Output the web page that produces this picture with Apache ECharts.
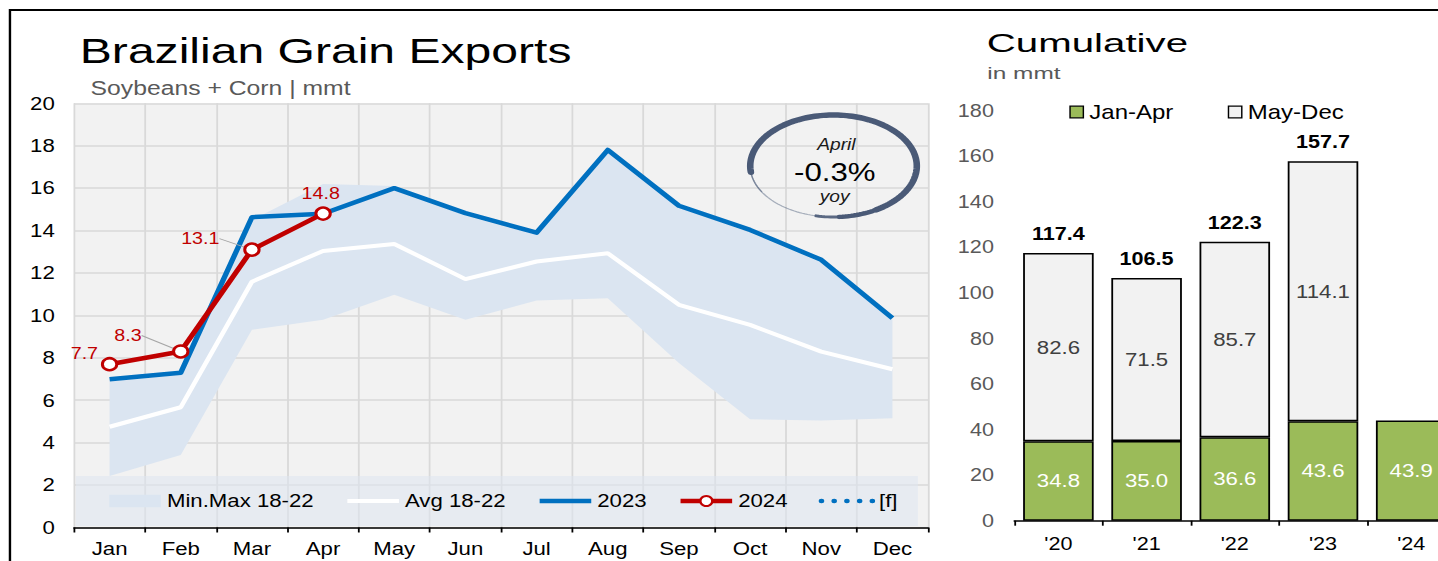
<!DOCTYPE html>
<html>
<head>
<meta charset="utf-8">
<script src="https://cdn.jsdelivr.net/npm/echarts@6/dist/echarts.min.js"></script>
<style>
  html, body { margin: 0; padding: 0; background: #fff; overflow: hidden; }
  /* the whole board is drawn 1.2x wide */
  #chart { width: 1199px; height: 561px; transform: scaleX(1.2); transform-origin: 0 0; }
</style>
</head>
<body>
<div id="chart"></div>
<script>
// ---- monthly exports, soybeans + corn (mmt) ----
const months = ['Jan', 'Feb', 'Mar', 'Apr', 'May', 'Jun', 'Jul', 'Aug', 'Sep', 'Oct', 'Nov', 'Dec'];
const range1822Min = [2.43, 3.42, 9.32, 9.79, 10.97, 9.79, 10.70, 10.81, 7.75, 5.10, 5.04, 5.15];
const range1822Max = [6.90, 7.20, 14.50, 16.20, 16.10, 14.70, 13.80, 17.70, 15.10, 13.90, 12.50, 9.80];
const avg1822 = [4.75, 5.67, 11.59, 13.04, 13.37, 11.71, 12.54, 12.93, 10.50, 9.55, 8.29, 7.46];
const exports2023 = [6.99, 7.30, 14.63, 14.79, 16.00, 14.82, 13.90, 17.80, 15.17, 14.03, 12.62, 9.87];
const exports2024 = [7.7, 8.3, 13.1, 14.8];
const forecast2024 = [];
const monthlyTicks = { min: 0, max: 20, interval: 2 };

// ---- cumulative exports by year (mmt) ----
const years = ["'20", "'21", "'22", "'23", "'24"];
const janApr = [34.8, 35.0, 36.6, 43.6, 43.9];
const mayDec = [82.6, 71.5, 85.7, 114.1, null];
const cumulativeTicks = { min: 0, max: 180, interval: 20 };

// ---- callout ----
const calloutMonth = 'April';
const calloutChange = '-0.3%';
const calloutBasis = 'yoy';

const FONT = "'Liberation Sans', Arial, Helvetica, sans-serif";

const bandSpan = range1822Max.map((v, i) => +(v - range1822Min[i]).toFixed(2));
const yearTotals = janApr.map((v, i) => (mayDec[i] == null ? null : +(v + mayDec[i]).toFixed(1)));

// label nudges for the 2024 points, and which ones get a leader line
const labelNudge = [[-21, -11], [-44, -16], [-43, -11], [-2, -20]];
const withLeader = [false, true, true, false];

const data2024 = exports2024.map((v, i) => ({
  value: v,
  labelLine: { show: withLeader[i] }
}));

// brush-stroke ring round the callout
const ring = { cx: 694.6, cy: 166, rx: 69.4, ry: 51 };
function ringArc(fromDeg, toDeg) {
  const pts = [];
  for (let t = fromDeg; t <= toDeg + 0.001; t += 2) {
    const r = t * Math.PI / 180;
    pts.push([ring.cx + ring.rx * Math.cos(r), ring.cy + ring.ry * Math.sin(r)]);
  }
  return pts;
}
const ringStrokes = [
  { from: 150, to: 176, w: 1.2, o: 0.5 },
  { from: 173, to: 420, w: 5.5, o: 1 },
  { from: 418, to: 446, w: 4.5, o: 1 },
  { from: 444, to: 462, w: 3, o: 0.9 },
  { from: 460, to: 530, w: 1.2, o: 0.45 }
];
const ringColor = '#4a5a77';

const graphics = [
  // outer frame
  { type: 'rect', z: 0, shape: { x: 8.3, y: 10, width: 2000, height: 1000 },
    style: { fill: 'none', stroke: '#000', lineWidth: 2 } },
  // titles
  { type: 'text', x: 66.5, y: 51, scaleX: 1.145, z: 10,
    style: { text: 'Brazilian Grain Exports', font: '35px ' + FONT, fill: '#000',
      align: 'left', verticalAlign: 'middle', textAlign: 'left', textVerticalAlign: 'middle' } },
  { type: 'text', x: 75.5, y: 88, scaleX: 1.057, z: 10,
    style: { text: 'Soybeans + Corn | mmt', font: '19.5px ' + FONT, fill: '#595959',
      align: 'left', verticalAlign: 'middle', textAlign: 'left', textVerticalAlign: 'middle' } },
  { type: 'text', x: 822.3, y: 42.7, scaleX: 1.29, z: 10,
    style: { text: 'Cumulative', font: '26px ' + FONT, fill: '#000',
      align: 'left', verticalAlign: 'middle', textAlign: 'left', textVerticalAlign: 'middle' } },
  { type: 'text', x: 822.8, y: 72.8, scaleX: 1.27, z: 10,
    style: { text: 'in mmt', font: '16px ' + FONT, fill: '#595959',
      align: 'left', verticalAlign: 'middle', textAlign: 'left', textVerticalAlign: 'middle' } },
  // callout texts
  { type: 'text', x: 697, y: 145, z: 20,
    style: { text: calloutMonth, font: 'italic 16px ' + FONT, fill: '#1a1a1a',
      align: 'center', verticalAlign: 'middle', textAlign: 'center', textVerticalAlign: 'middle' } },
  { type: 'text', x: 695.7, y: 172, z: 20,
    style: { text: calloutChange, font: '26px ' + FONT, fill: '#000',
      align: 'center', verticalAlign: 'middle', textAlign: 'center', textVerticalAlign: 'middle' } },
  { type: 'text', x: 695.5, y: 197, z: 20,
    style: { text: calloutBasis, font: 'italic 16px ' + FONT, fill: '#1a1a1a',
      align: 'center', verticalAlign: 'middle', textAlign: 'center', textVerticalAlign: 'middle' } }
].concat(ringStrokes.map(s => ({
  type: 'polyline', z: 20,
  shape: { points: ringArc(s.from, s.to) },
  style: { stroke: ringColor, lineWidth: s.w, opacity: s.o, fill: 'none', lineCap: 'round', lineJoin: 'round' }
})));

const noMarker = { opacity: 0 };

const chart = echarts.init(document.getElementById('chart'), null, { renderer: 'svg' });

const option = {
  animation: false,
  textStyle: { fontFamily: FONT },
  graphic: graphics,
  grid: [
    { left: 61.67, top: 103.3, width: 711.67, height: 424.2, show: true,
      backgroundColor: '#f2f2f2', borderWidth: 0, outerBoundsMode: 'none', containLabel: false },
    { left: 845.25, top: 110.3, width: 367.5, height: 410.4,
      outerBoundsMode: 'none', containLabel: false }
  ],
  legend: [
    {
      data: [
        { name: 'Min.Max 18-22', icon: 'rect' },
        { name: 'Avg 18-22', itemStyle: noMarker, lineStyle: { width: 4, color: '#ffffff' } },
        { name: '2023', itemStyle: noMarker, lineStyle: { width: 4.5, color: '#0070c0' } },
        { name: '2024', lineStyle: { width: 4.5, color: '#c00000' } },
        { name: '[f]', itemStyle: noMarker,
          lineStyle: { width: 4.5, color: '#0070c0', type: [0.1, 10.5], cap: 'round' } }
      ],
      left: 63.3, top: 476,
      padding: [15.5, 17, 15.5, 27.8],
      backgroundColor: 'rgba(222,229,241,0.55)',
      itemWidth: 43, itemHeight: 12.5, itemGap: 26,
      textStyle: { fontSize: 18.5, color: '#000', fontFamily: FONT },
      selectedMode: false
    },
    {
      data: ['Jan-Apr', 'May-Dec'],
      left: 891.1, top: 102,
      padding: 0,
      icon: 'rect',
      itemWidth: 11.1, itemHeight: 11.6, itemGap: 45.3,
      itemStyle: { borderColor: '#000', borderWidth: 1.2 },
      textStyle: { fontSize: 20, color: '#000', fontFamily: FONT },
      selectedMode: false
    }
  ],
  xAxis: [
    {
      type: 'category', gridIndex: 0, data: months, boundaryGap: true,
      axisLine: { lineStyle: { color: '#000', width: 1.5 } },
      axisTick: { show: true, length: 5, lineStyle: { color: '#000', width: 1.5 } },
      axisLabel: { color: '#000', fontSize: 18.5, margin: 12, interval: 0 },
      splitLine: { show: true, lineStyle: { color: '#d9d9d9', width: 1.5 } }
    },
    {
      type: 'category', gridIndex: 1, data: years, boundaryGap: true,
      axisLine: { lineStyle: { color: '#000', width: 1.5 } },
      axisTick: { show: true, length: 5, lineStyle: { color: '#000', width: 1.5 } },
      axisLabel: { color: '#000', fontSize: 18, margin: 14, interval: 0 },
      splitLine: { show: false }
    }
  ],
  yAxis: [
    {
      type: 'value', gridIndex: 0,
      min: monthlyTicks.min, max: monthlyTicks.max, interval: monthlyTicks.interval,
      axisLine: { show: false }, axisTick: { show: false },
      axisLabel: { color: '#000', fontSize: 18.5, margin: 16 },
      splitLine: { show: true, lineStyle: { color: '#d9d9d9', width: 1.5 } }
    },
    {
      type: 'value', gridIndex: 1,
      min: cumulativeTicks.min, max: cumulativeTicks.max, interval: cumulativeTicks.interval,
      axisLine: { show: false }, axisTick: { show: false },
      axisLabel: { color: '#595959', fontSize: 18, margin: 17 },
      splitLine: { show: false }
    }
  ],
  series: [
    // 2018-22 min/max band: base + span stacked
    {
      name: 'range-base', type: 'line', xAxisIndex: 0, yAxisIndex: 0,
      data: range1822Min, stack: 'band', symbol: 'none', silent: true,
      lineStyle: { opacity: 0 }, z: 1
    },
    {
      name: 'Min.Max 18-22', type: 'line', xAxisIndex: 0, yAxisIndex: 0,
      data: bandSpan, stack: 'band', symbol: 'none', silent: true,
      lineStyle: { opacity: 0 }, itemStyle: { color: '#dbe5f1' },
      areaStyle: { color: '#dbe5f1', opacity: 1 }, z: 1
    },
    {
      name: 'Avg 18-22', type: 'line', xAxisIndex: 0, yAxisIndex: 0,
      data: avg1822, symbol: 'none',
      itemStyle: { color: '#ffffff' },
      lineStyle: { color: '#ffffff', width: 4 }, z: 3
    },
    {
      name: '2023', type: 'line', xAxisIndex: 0, yAxisIndex: 0,
      data: exports2023, symbol: 'none',
      itemStyle: { color: '#0070c0' },
      lineStyle: { color: '#0070c0', width: 4.5, join: 'round' }, z: 4
    },
    {
      name: '2024', type: 'line', xAxisIndex: 0, yAxisIndex: 0,
      data: data2024, symbol: 'circle', symbolSize: 12, showSymbol: true,
      itemStyle: { color: '#ffffff', borderColor: '#c00000', borderWidth: 2.5 },
      lineStyle: { color: '#c00000', width: 4.5 }, z: 5,
      label: { show: true, position: 'inside', color: '#c00000', fontSize: 16.4, fontFamily: FONT },
      labelLine: { show: false, length2: 0, lineStyle: { color: '#a6a6a6', width: 1 } },
      labelLayout: function (p) {
        const n = labelNudge[p.dataIndex] || [0, 0];
        return { dx: n[0], dy: n[1] };
      }
    },
    {
      name: '[f]', type: 'line', xAxisIndex: 0, yAxisIndex: 0,
      data: forecast2024, symbol: 'none',
      itemStyle: { color: '#0070c0' },
      lineStyle: { color: '#0070c0', width: 4.5, type: [0.1, 10.5], cap: 'round' }, z: 4
    },
    // cumulative stacked bars
    {
      name: 'Jan-Apr', type: 'bar', xAxisIndex: 1, yAxisIndex: 1,
      data: janApr, stack: 'cum', barCategoryGap: '20%',
      itemStyle: { color: '#9bbb59', borderColor: '#000', borderWidth: 1.5 },
      label: { show: true, position: 'inside', color: '#fff', fontSize: 18.5,
        formatter: p => p.value.toFixed(1) }
    },
    {
      name: 'May-Dec', type: 'bar', xAxisIndex: 1, yAxisIndex: 1,
      data: mayDec, stack: 'cum',
      itemStyle: { color: '#f2f2f2', borderColor: '#000', borderWidth: 1.5 },
      label: { show: true, position: 'inside', color: '#404040', fontSize: 18.5,
        formatter: p => (p.value == null ? '' : p.value.toFixed(1)) }
    },
    {
      name: 'Total', type: 'bar', xAxisIndex: 1, yAxisIndex: 1,
      data: yearTotals, barGap: '-100%', silent: true,
      itemStyle: { color: 'rgba(0,0,0,0)', borderWidth: 0 },
      label: { show: true, position: 'top', distance: 10, color: '#000', fontSize: 18,
        fontWeight: 'bold', formatter: p => (p.value == null ? '' : p.value.toFixed(1)) },
      z: 1
    }
  ]
};

chart.setOption(option);
</script>
</body>
</html>
